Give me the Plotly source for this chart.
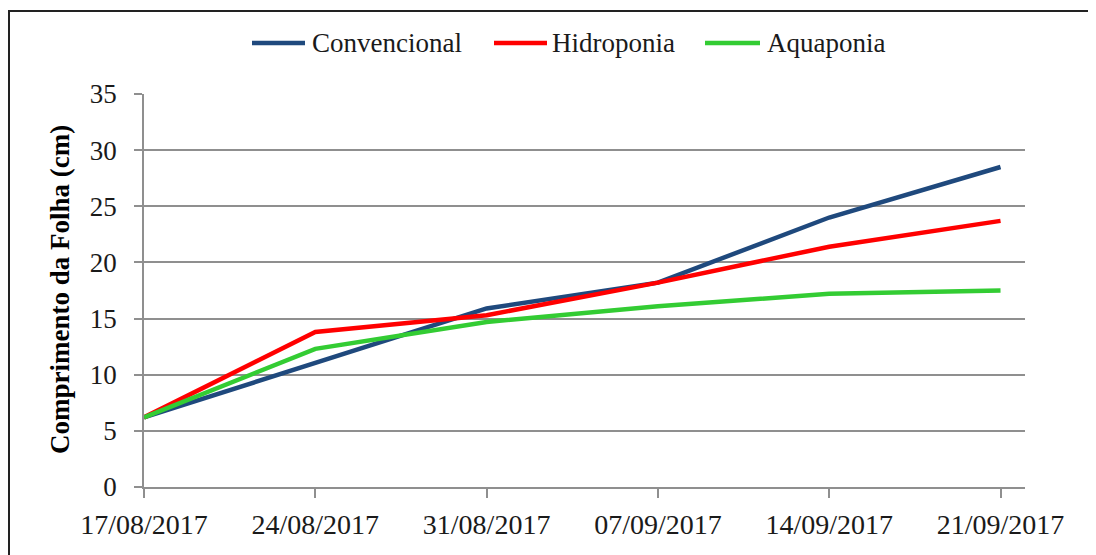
import plotly.graph_objects as go

dates = ["2017-08-17", "2017-08-24", "2017-08-31", "2017-09-07", "2017-09-14", "2017-09-21"]
tick_labels = ["17/08/2017", "24/08/2017", "31/08/2017", "07/09/2017", "14/09/2017", "21/09/2017"]
series_names = ["Convencional", "Hidroponia", "Aquaponia"]
series_colors = ["#1F497D", "#FF0000", "#33CC33"]
convencional = [6.2, 11.1, 15.9, 18.2, 24.0, 28.5]
hidroponia = [6.2, 13.8, 15.3, 18.2, 21.4, 23.7]
aquaponia = [6.2, 12.3, 14.7, 16.1, 17.2, 17.5]

FONT = "Liberation Serif"
GRID = "#8f8f8f"
OFF = 8  # page body margin

fig = go.Figure()
for name, color, vals in zip(series_names, series_colors, [convencional, hidroponia, aquaponia]):
    fig.add_trace(go.Scatter(x=dates, y=vals, mode="lines", name=name,
                             line=dict(color=color, width=4.5), showlegend=False))

W, H = 1096 - OFF, 555 - OFF
L, T = 144 - OFF, 94 - OFF
R = W - (1025 - OFF)
B = H - (487 - OFF)
pw, ph = W - L - R, H - T - B


def px_x(sx):
    return (sx - 144) / pw


def px_y(sy):
    return (487 - sy) / ph


# manual legend (screen positions)
leg_line_x = [(252, 305), (494, 547), (705, 760)]
leg_text_x = [310, 550, 765]
leg_y = 43

shapes = [dict(type="rect", xref="paper", yref="paper",
               x0=px_x(9), x1=px_x(1110), y0=px_y(570), y1=px_y(11),
               line=dict(color="#222222", width=2), fillcolor="rgba(0,0,0,0)")]
annotations = [dict(text="<b>Comprimento da Folha (cm)</b>", textangle=-90,
                    xref="paper", yref="paper", x=px_x(60), y=px_y(290),
                    xanchor="center", yanchor="middle", showarrow=False,
                    font=dict(family=FONT, size=27, color="#000000"))]
for name, color, (lx0, lx1), tx in zip(series_names, series_colors, leg_line_x, leg_text_x):
    shapes.append(dict(type="line", xref="paper", yref="paper",
                       x0=px_x(lx0), x1=px_x(lx1), y0=px_y(leg_y), y1=px_y(leg_y),
                       line=dict(color=color, width=4.5)))
    annotations.append(dict(text=name, xref="paper", yref="paper",
                            x=px_x(tx), y=px_y(leg_y), xanchor="left", yanchor="middle",
                            showarrow=False,
                            font=dict(family=FONT, size=27, color="#1a1a1a")))

fig.update_layout(
    width=W, height=H,
    margin=dict(l=L, r=R, t=T, b=B),
    paper_bgcolor="white", plot_bgcolor="white",
    font=dict(family=FONT, size=27, color="#1a1a1a"),
    showlegend=False,
    xaxis=dict(type="date", range=["2017-08-17", "2017-09-22"],
               tickvals=dates, ticktext=tick_labels,
               showgrid=False, zeroline=False,
               showline=True, linecolor=GRID, linewidth=1.5,
               ticks="outside", ticklen=9, tickwidth=1.5, tickcolor=GRID,
               ticklabelstandoff=3,
               tickfont=dict(family=FONT, size=28, color="#1a1a1a")),
    yaxis=dict(range=[0, 35], dtick=5, tick0=0,
               showgrid=True, gridcolor=GRID, gridwidth=1.5, zeroline=False,
               showline=True, linecolor=GRID, linewidth=1.5,
               ticks="outside", ticklen=8, tickwidth=1.5, tickcolor=GRID,
               ticklabelstandoff=12,
               tickfont=dict(family=FONT, size=27, color="#1a1a1a")),
    annotations=annotations,
    shapes=shapes,
)

fig.write_html("out.html")
